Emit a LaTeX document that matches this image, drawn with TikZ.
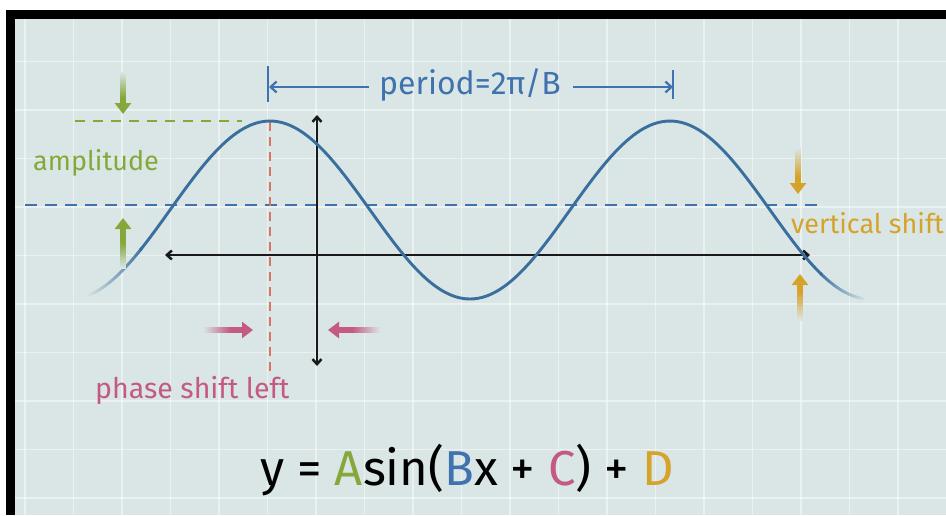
\documentclass[tikz,border=0pt]{standalone}
\usepackage{fontspec}
\setmainfont{Fira Sans}
\usepackage{xcolor}
\usetikzlibrary{arrows.meta,positioning,fadings,calc}
\definecolor{paperbg}{HTML}{D9E6E5}
\definecolor{curveblue}{HTML}{3A6E9E}
\definecolor{perblue}{HTML}{3F72AE}
\definecolor{ampgreen}{HTML}{86A83A}
\definecolor{vshiftyellow}{HTML}{D6A32A}
\definecolor{phasepink}{HTML}{C45A82}
\definecolor{phasered}{HTML}{D8775E}
\tikzfading[name=fade left,left color=transparent!100,right color=transparent!0]
\tikzfading[name=fade right,left color=transparent!0,right color=transparent!100]
\tikzset{axis/.style={{Straight Barb[length=5pt,width=9pt]}-{Straight Barb[length=5pt,width=9pt]},line width=2.5pt,draw=black!90},
  fatarrow/.style={-{Triangle[length=11pt,width=16pt]},line width=5.5pt},
  guide/.style={line width=2.8pt},
  wave/.style={curveblue,line width=2.9pt},
  periodline/.style={-{Straight Barb[length=6pt,width=11pt]},line width=2.2pt,draw=perblue},
  label/.style={font=\fontsize{27}{30}\selectfont,inner sep=0pt}}

\begin{document}
\begin{tikzpicture}[x=1pt,y=-1pt]
 \useasboundingbox (0,0) rectangle (946,515);
 \fill[white] (0,0) rectangle (946,515);
 \fill[black] (6,10) rectangle (946,515);
 \fill[paperbg] (15,19) rectangle (946,515);
 \begin{scope}
  \clip (15,19) rectangle (946,515);
  \foreach \gx in {0,...,19}
   \draw[white,opacity=0.45,line width=1.3pt] ({25+48.5*\gx},19) -- ({25+48.5*\gx},515);
  \foreach \gy in {0,...,10}
   \draw[white,opacity=0.45,line width=1.3pt] (15,{13+48.5*\gy}) -- (946,{13+48.5*\gy});
 \end{scope}
 % guides
 \draw[guide,draw=perblue,dash pattern=on 12pt off 8pt] (25,205) -- (822,205);
 \draw[guide,draw=ampgreen,dash pattern=on 10pt off 8pt] (75,121) -- (242,121);
 \draw[line width=2.2pt,draw=phasered,dash pattern=on 9pt off 6pt] (270,122) -- (270,376);
 % axes
 \coordinate (xl) at (165,255);
 \coordinate (xr) at (810,255);
 \coordinate (yt) at (317,115);
 \coordinate (yb) at (317,366);
 \draw[axis] (xl) -- (xr);
 \draw[axis] (yt) -- (yb);
 % curve
 \draw[wave,path fading=fade left] plot[smooth,domain=88:142,samples=20]
  (\x,{210-89*cos(0.9*(\x-270))});
 \draw[wave] plot[smooth,domain=140:822,samples=160]
  (\x,{210-89*cos(0.9*(\x-270))});
 \draw[wave,path fading=fade right] plot[smooth,domain=820:864,samples=20]
  (\x,{210-89*cos(0.9*(\x-270))});
 % period
 \node[label,anchor=base west,text=perblue,font=\fontsize{32}{34}\selectfont] (period) at (379,94) {period=2π/B};
 \coordinate (pl) at (269,87);
 \coordinate (pr) at (673,87);
 \draw[line width=2.8pt,perblue] (268,66) -- (268,102);
 \draw[line width=2.8pt,perblue] (673,70) -- (673,99);
 \draw[periodline] ([xshift=-10pt]period.west |- pl) -- (pl);
 \draw[periodline] ([xshift=12pt]period.east |- pr) -- (pr);
 % amplitude
 \node[label,anchor=base west,text=ampgreen] (amp) at (33,170) {amplitude};
 \coordinate (at1) at (123,72);
 \coordinate (atm) at (123,97);
 \coordinate (at2) at (123,114);
 \coordinate (ab1) at (123,268);
 \coordinate (abm) at (123,243);
 \coordinate (ab2) at (123,218);
 \shade[top color=paperbg,bottom color=ampgreen] ($(at1)+(-2.75,0)$) rectangle ($(atm)+(2.75,0)$);
 \draw[fatarrow,draw=ampgreen] (atm) -- (at2);
 \shade[bottom color=paperbg,top color=ampgreen] ($(ab1)+(-2.75,0)$) rectangle ($(abm)+(2.75,0)$);
 \draw[fatarrow,draw=ampgreen] (abm) -- (ab2);
 % vertical shift
 \node[label,anchor=base west,text=vshiftyellow] (vshift) at (791,233) {vertical shift};
 \coordinate (vt1) at (798,148);
 \coordinate (vtm) at (798,176);
 \coordinate (vt2) at (798,194);
 \coordinate (vb1) at (800,320);
 \coordinate (vbm) at (800,292);
 \coordinate (vb2) at (800,274);
 \shade[top color=paperbg,bottom color=vshiftyellow] ($(vt1)+(-2.75,0)$) rectangle ($(vtm)+(2.75,0)$);
 \draw[fatarrow,draw=vshiftyellow] (vtm) -- (vt2);
 \shade[bottom color=paperbg,top color=vshiftyellow] ($(vb1)+(-2.75,0)$) rectangle ($(vbm)+(2.75,0)$);
 \draw[fatarrow,draw=vshiftyellow] (vbm) -- (vb2);
 % phase shift
 \node[label,anchor=base west,text=phasepink,font=\fontsize{28.5}{31}\selectfont] (phase) at (95,398) {phase shift left};
 \coordinate (pa1) at (203,330);
 \coordinate (pam) at (230,330);
 \coordinate (pa2) at (253,330);
 \coordinate (pb1) at (380,330);
 \coordinate (pbm) at (352,330);
 \coordinate (pb2) at (328,330);
 \shade[left color=paperbg,right color=phasepink] ($(pa1)+(0,-2.75)$) rectangle ($(pam)+(0,2.75)$);
 \draw[fatarrow,draw=phasepink] (pam) -- (pa2);
 \shade[right color=paperbg,left color=phasepink] ($(pb1)+(0,-2.75)$) rectangle ($(pbm)+(0,2.75)$);
 \draw[fatarrow,draw=phasepink] (pbm) -- (pb2);
 % formula
 \node[inner sep=0pt,anchor=base,font=\fontsize{49}{53}\selectfont] (formula) at (467,485)
  {y = \textcolor{ampgreen}{A}sin(\textcolor{perblue}{B}x + \textcolor{phasepink}{C}) + \textcolor{vshiftyellow}{D}};
\end{tikzpicture}
\end{document}
